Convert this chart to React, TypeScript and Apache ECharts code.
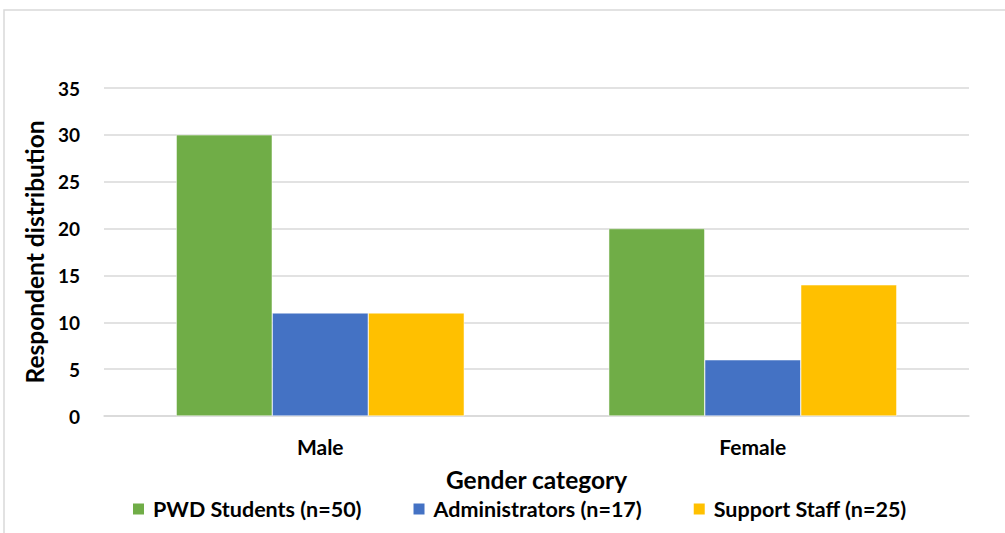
import React, { useEffect, useRef } from "react";
import * as echarts from "echarts";

const categories = ["Male", "Female"];
const pwdStudents = [30, 20];
const administrators = [11, 6];
const supportStaff = [11, 14];
const seriesNames = ["PWD Students (n=50)", "Administrators (n=17)", "Support Staff (n=25)"];
const colors = ["#70AD47", "#4472C4", "#FFC000"];

const FONT = "Lato, 'Open Sans', sans-serif";

export default function App() {
  const ref = useRef<HTMLDivElement>(null);
  useEffect(() => {
    const chart = echarts.init(ref.current!, undefined, { renderer: "svg" });
    const data = [pwdStudents, administrators, supportStaff];
    chart.setOption({
      animation: false,
      textStyle: { fontFamily: FONT },
      graphic: [
        {
          type: "rect",
          shape: { x: 4, y: 10, width: 1100, height: 600 },
          style: { fill: "none", stroke: "#d9d9d9", lineWidth: 1.5 },
          silent: true,
        },
      ],
      grid: { left: 104, right: 36, top: 88, bottom: 117 },
      legend: {
        top: 498,
        left: 131,
        padding: 0,
        itemWidth: 13,
        itemHeight: 13,
        itemGap: 50,
        icon: "rect",
        textStyle: { fontSize: 21.5, fontWeight: "bold", color: "#000", fontFamily: FONT, padding: [0, 0, 0, 3] },
        data: seriesNames,
      },
      xAxis: {
        type: "category",
        data: categories,
        name: "Gender category",
        nameLocation: "middle",
        nameGap: 51,
        nameTextStyle: { fontSize: 24.5, fontWeight: "bold", color: "#000", fontFamily: FONT },
        axisLine: { lineStyle: { color: "#d9d9d9", width: 1.5 } },
        axisTick: { show: false },
        axisLabel: { fontSize: 21, fontWeight: "bold", color: "#000", margin: 20, fontFamily: FONT },
      },
      yAxis: {
        type: "value",
        min: 0,
        max: 35,
        interval: 5,
        name: "Respondent distribution",
        nameLocation: "middle",
        nameGap: 56,
        nameTextStyle: { fontSize: 24.5, fontWeight: "bold", color: "#000", fontFamily: FONT },
        axisLine: { show: false },
        axisTick: { show: false },
        axisLabel: { fontSize: 19, fontWeight: "bold", color: "#000", margin: 24, fontFamily: FONT },
        splitLine: { lineStyle: { color: "#d9d9d9", width: 1.5 } },
      },
      series: seriesNames.map((name, i) => ({
        name,
        type: "bar",
        data: data[i],
        barGap: "0%",
        barCategoryGap: "33.4%",
        itemStyle: { color: colors[i], borderColor: "#fff", borderWidth: 0.5 },
      })),
    });
    return () => chart.dispose();
  }, []);
  return (
    <div
      ref={ref}
      style={{ position: "fixed", left: 0, top: 0, width: 1005, height: 533, background: "#fff" }}
    />
  );
}
